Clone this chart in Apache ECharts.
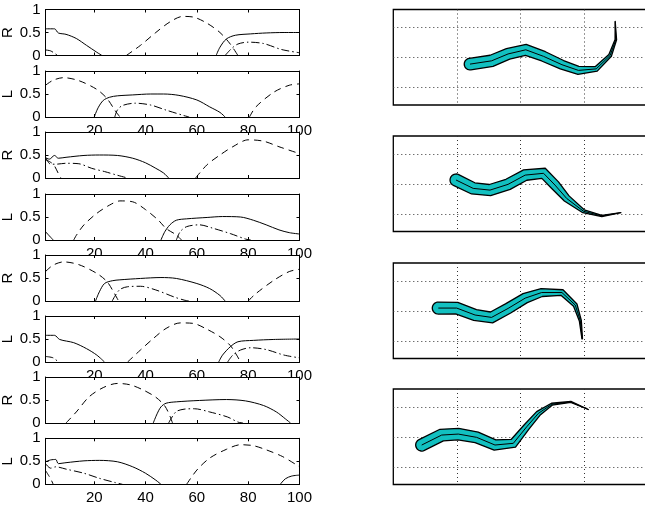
<!DOCTYPE html>
<html><head><meta charset="utf-8">
<script src="https://cdn.jsdelivr.net/npm/echarts@6/dist/echarts.min.js"></script>
<style>html,body{margin:0;padding:0;background:#fff}#c{width:645px;height:506px}</style>
</head><body><div id="c"></div>
<script>
// ---------- tick labels ----------
const xTickValues = [20, 40, 60, 80, 100];
const yTickValues = [0, 0.5, 1];
const panelNames = ['R', 'L', 'R', 'L', 'R', 'L', 'R', 'L'];
const rightGridX = [1, 2, 3];
const rightGridY = [0, 1, 2];

// ---------- left panels: [x, value] ----------
const p1Solid = [[1,0.58],[4.5,0.58],[6,0.49],[9,0.46],[13,0.37],[17,0.22],[21,0.07],[23,0],[67.5,0],[69,0.18],[71.5,0.36],[75,0.44],[81,0.47],[87,0.49],[94,0.5],[100,0.5]];
const p1Dash = [[1,0],[32.5,0],[38,0.22],[44,0.5],[49.5,0.73],[54.5,0.85],[59,0.83],[64,0.7],[69,0.5],[73,0.25],[76,0],[100,0]];
const p1DashDot = [[1,0.12],[3,0.1],[5,0.03],[6,0],[71,0],[73.5,0.15],[76,0.25],[80,0.29],[86,0.26],[93,0.13],[100,0.06]];

const p2Solid = [[1,0],[20,0],[21.5,0.2],[23.5,0.36],[26,0.43],[29,0.46],[35,0.48],[42,0.5],[47,0.5],[53,0.47],[60,0.37],[65,0.22],[69,0.1],[71,0],[100,0]];
const p2Dash = [[1,0.69],[4,0.8],[8,0.855],[14,0.79],[21,0.6],[25,0.4],[28,0.15],[30,0],[80.5,0],[83,0.22],[90,0.54],[96,0.69],[100,0.72]];
const p2DashDot = [[1,0],[28,0],[29,0.15],[31,0.25],[36,0.3],[42,0.26],[48,0.15],[55,0.03],[57,0],[100,0]];

const p3Solid = [[1,0.44],[2.5,0.41],[4.5,0.49],[6,0.43],[9,0.45],[16,0.49],[22,0.5],[29,0.49],[35,0.43],[40,0.33],[44,0.21],[47,0.11],[49,0],[100,0]];
const p3Dash = [[1,0.4],[4,0.3],[6,0.1],[7,0],[59.5,0],[64,0.29],[69,0.5],[74,0.68],[80,0.83],[86,0.8],[92,0.68],[100,0.53]];
const p3DashDot = [[1,0.45],[3,0.3],[5,0.3],[9,0.32],[14,0.31],[19,0.21],[24,0.14],[29,0.06],[33,0],[100,0]];

const p4Solid = [[1,0.18],[4,0],[46,0],[47.5,0.18],[49.5,0.33],[52,0.43],[56,0.46],[64,0.49],[70,0.51],[77,0.5],[82,0.43],[87,0.33],[92,0.22],[96,0.16],[100,0.13]];
const p4Dash = [[1,0],[12,0],[13,0.1],[16,0.33],[21,0.58],[26,0.76],[30,0.85],[35,0.83],[40,0.66],[45,0.43],[48,0.25],[52,0.11],[54,0],[100,0]];
const p4DashDot = [[1,0],[52,0],[53.5,0.18],[56,0.29],[61,0.33],[66,0.26],[73,0.14],[79,0.02],[81,0],[100,0]];

const p5Solid = [[1,0],[20.5,0],[22,0.2],[24,0.38],[27,0.44],[30,0.46],[38,0.49],[46,0.51],[52,0.49],[60,0.38],[65,0.27],[69,0.12],[71,0],[100,0]];
const p5Dash = [[1,0.64],[4,0.78],[8,0.85],[14,0.79],[21,0.6],[25,0.42],[27.5,0.2],[29.5,0],[80,0],[83,0.16],[90,0.45],[96,0.64],[100,0.69]];
const p5DashDot = [[1,0],[27,0],[28,0.1],[30,0.25],[33,0.31],[38,0.32],[44,0.24],[51,0.09],[55,0.02],[57,0],[100,0]];

const p6Solid = [[1,0.58],[4.5,0.58],[6.5,0.49],[12,0.42],[17,0.29],[21,0.15],[24,0],[68.5,0],[70,0.15],[73,0.33],[76,0.44],[82,0.47],[90,0.49],[100,0.5]];
const p6Dash = [[1,0],[33,0],[38,0.26],[43,0.51],[48,0.73],[53.5,0.85],[58.5,0.84],[64,0.71],[69,0.55],[73,0.36],[75.5,0.15],[77,0],[100,0]];
const p6DashDot = [[1,0.12],[4,0.09],[6,0],[72,0],[74,0.15],[77,0.26],[81,0.31],[87,0.27],[94,0.15],[100,0.09]];

const p7Solid = [[1,0],[43,0],[44.5,0.2],[46,0.35],[48,0.43],[52,0.46],[61,0.49],[71.5,0.51],[79,0.48],[86,0.38],[91,0.24],[94.5,0.09],[96.5,0],[100,0]];
const p7Dash = [[1,0],[9,0],[13,0.24],[18,0.57],[23.5,0.77],[29,0.86],[34,0.83],[39,0.72],[44,0.56],[47.5,0.37],[49.5,0.15],[50.5,0],[100,0]];
const p7DashDot = [[1,0],[49,0],[50,0.1],[52,0.25],[55,0.3],[59,0.31],[65,0.24],[72,0.13],[76,0.02],[78,0],[100,0]];

const p8Solid = [[1,0.49],[3,0.53],[5,0.54],[6,0.45],[9,0.47],[16,0.51],[22,0.52],[29,0.49],[35,0.38],[40,0.24],[44,0.09],[46,0],[92.5,0],[94.5,0.12],[97,0.18],[100,0.2]];
const p8Dash = [[1,0.3],[3,0.12],[4,0],[56,0],[60,0.31],[65,0.57],[71.5,0.76],[77,0.86],[82,0.84],[87,0.75],[93.5,0.6],[100,0.38]];
const p8DashDot = [[1,0.45],[3,0.35],[5,0.38],[9,0.33],[16,0.24],[22,0.13],[28,0.04],[31,0],[100,0]];

// ---------- right panels: worm centre line [x, y, half-width] ----------
const worm1 = [[1.21,0.77,0.091],[1.55,0.88,0.091],[1.81,1.11,0.087],[2.09,1.25,0.087],[2.37,1.03,0.079],[2.66,0.75,0.071],[2.92,0.56,0.063],[3.20,0.61,0.039],[3.42,1.06,0.024],[3.51,1.59,0.012],[3.50,2.20,0]];
const worm2 = [[0.99,1.125,0.095],[1.26,0.845,0.092],[1.525,0.787,0.089],[1.81,0.98,0.087],[2.08,1.29,0.085],[2.37,1.35,0.084],[2.55,0.956,0.075],[2.735,0.507,0.055],[3.0,0.078,0.025],[3.29,-0.08,0.01],[3.59,0.034,0]];
const worm3 = [[0.71,1.09,0.095],[1.0,1.09,0.092],[1.29,0.857,0.087],[1.55,0.777,0.087],[1.81,1.077,0.083],[2.08,1.423,0.079],[2.34,1.61,0.063],[2.66,1.61,0.047],[2.87,1.19,0.032],[2.95,0.667,0.016],[2.98,0.057,0.004]];
const worm4 = [[0.448,0.723,0.095],[0.763,1.057,0.095],[1.025,1.09,0.091],[1.315,0.98,0.087],[1.604,0.723,0.083],[1.893,0.78,0.07],[2.104,1.333,0.05],[2.287,1.78,0.039],[2.5,2.09,0.016],[2.8,2.167,0.008],[3.076,1.913,0]];

// ---------- assembly ----------
const leftPanels = [
  [p1Solid,p1Dash,p1DashDot],[p2Solid,p2Dash,p2DashDot],[p3Solid,p3Dash,p3DashDot],[p4Solid,p4Dash,p4DashDot],
  [p5Solid,p5Dash,p5DashDot],[p6Solid,p6Dash,p6DashDot],[p7Solid,p7Dash,p7DashDot],[p8Solid,p8Dash,p8DashDot]
];
const worms = [worm1, worm2, worm3, worm4];

const FONT = 'Liberation Sans, Arial, Helvetica, sans-serif';
const leftTops = [9.5, 71, 132, 194, 255, 316, 377, 438.3];
const rightTops = [9.5, 136, 263, 389];
const lineStyles = [
  {type: 'solid'},
  {type: [7, 5]},
  {type: [8, 3, 1.5, 3]}
];

// split a curve where it rests on the zero baseline (those stretches lie under the axis line)
function segments(pts) {
  const segs = [];
  let cur = [pts[0]];
  for (let i = 1; i < pts.length; i++) {
    if (pts[i][1] === 0 && pts[i - 1][1] === 0) {
      if (cur.length > 1) segs.push(cur);
      cur = [pts[i]];
    } else cur.push(pts[i]);
  }
  if (cur.length > 1) segs.push(cur);
  return segs;
}

const grid = [], xAxis = [], yAxis = [], series = [];
leftTops.forEach((top, i) => {
  const base = 10 * i;
  grid.push({left: 45.5, top: top, width: 254, height: 46, show: true, backgroundColor: '#fff', borderWidth: 0, z: base, containLabel: false, outerBoundsMode: 'none'});
  const isL = panelNames[i] === 'L';
  const axLine = {show: true, onZero: false, lineStyle: {color: '#000', width: 1}};
  const tick = {show: true, inside: true, length: 3, customValues: xTickValues, lineStyle: {color: '#000'}};
  xAxis.push({gridIndex: i, type: 'value', min: 1, max: 100, position: 'bottom', axisLine: axLine, axisTick: tick,
    axisLabel: {show: isL, customValues: xTickValues, margin: 6, color: '#000', fontSize: 15, fontFamily: FONT},
    splitLine: {show: false}, z: base + 2});
  xAxis.push({gridIndex: i, type: 'value', min: 1, max: 100, position: 'top', axisLine: axLine, axisTick: tick,
    axisLabel: {show: false}, splitLine: {show: false}, z: base + 2});
  const ytick = {show: true, inside: true, length: 3, customValues: yTickValues, lineStyle: {color: '#000'}};
  yAxis.push({gridIndex: i, type: 'value', min: 0, max: 1, position: 'left', axisLine: axLine, axisTick: ytick,
    axisLabel: {show: true, customValues: yTickValues, margin: 5, color: '#000', fontSize: 15, fontFamily: FONT},
    name: panelNames[i], nameLocation: 'middle', nameRotate: 90, nameGap: 25,
    nameTextStyle: {color: '#000', fontSize: 15, fontFamily: FONT},
    splitLine: {show: false}, z: base + 2});
  yAxis.push({gridIndex: i, type: 'value', min: 0, max: 1, position: 'right', axisLine: axLine, axisTick: ytick,
    axisLabel: {show: false}, splitLine: {show: false}, z: base + 2});
  leftPanels[i].forEach((data, k) => {
    segments(data).forEach(seg => {
      series.push({type: 'line', xAxisIndex: 2 * i, yAxisIndex: 2 * i, data: seg, showSymbol: false, symbol: 'none',
        smooth: 0.3, clip: true, silent: true, z: base + 1,
        lineStyle: Object.assign({color: '#000', width: 1}, lineStyles[k])});
    });
  });
});

const xOff = xAxis.length, yOff = yAxis.length, gOff = grid.length;
const gridItems = rightGridX.map(v => [v, 0]).concat(rightGridY.map(v => [v, 1]));

function wormRender(pts) {
  return function (params, api) {
    if (params.dataIndex !== 0) return null;
    const P = pts.map(p => api.coord([p[0], p[1]]));
    const unit = api.size([1, 0])[0];
    const n = P.length;
    const Lp = [], Rp = [];
    let t0 = null;
    for (let i = 0; i < n; i++) {
      const a = P[Math.max(0, i - 1)], b = P[Math.min(n - 1, i + 1)];
      let tx = b[0] - a[0], ty = b[1] - a[1];
      const len = Math.hypot(tx, ty) || 1; tx /= len; ty /= len;
      if (i === 0) t0 = [tx, ty];
      const nx = -ty, ny = tx, h = pts[i][2] * unit;
      Lp.push([P[i][0] + nx * h, P[i][1] + ny * h]);
      Rp.push([P[i][0] - nx * h, P[i][1] - ny * h]);
    }
    const poly = Lp.concat(Rp.slice().reverse());
    const h0 = pts[0][2] * unit, nx0 = -t0[1], ny0 = t0[0];
    for (let s = 1; s < 16; s++) {
      const th = Math.PI * s / 16;
      poly.push([P[0][0] + h0 * (-nx0 * Math.cos(th) - t0[0] * Math.sin(th)),
                 P[0][1] + h0 * (-ny0 * Math.cos(th) - t0[1] * Math.sin(th))]);
    }
    return {type: 'group', children: [
      {type: 'polygon', shape: {points: poly}, style: {fill: '#12C0C0', stroke: '#000', lineWidth: 1.3, lineJoin: 'round'}},
      {type: 'polyline', shape: {points: P}, style: {fill: null, stroke: '#000', lineWidth: 1}}
    ]};
  };
}

function gridRender(params, api) {
  const cs = params.coordSys;
  const v = api.value(0), k = api.value(1);
  const st = {stroke: '#333', lineWidth: 1, lineDash: [1, 3]};
  if (k === 0) {
    const p = api.coord([v, 0]);
    const x = Math.round(p[0]) + 0.5;
    return {type: 'line', shape: {x1: x, y1: cs.y, x2: x, y2: cs.y + cs.height}, style: st};
  }
  const p = api.coord([0, v]);
  const y = Math.round(p[1]) + 0.5;
  return {type: 'line', shape: {x1: cs.x, y1: y, x2: cs.x + cs.width, y2: y}, style: st};
}

rightTops.forEach((top, j) => {
  const base = 100 + 10 * j;
  grid.push({left: 393.3, top: top, width: 253.6, height: 95.5, show: true, backgroundColor: '#fff', borderColor: '#000', borderWidth: 1.3, z: base, containLabel: false, outerBoundsMode: 'none'});
  xAxis.push({gridIndex: gOff + j, type: 'value', min: 0, max: 4, show: false, splitLine: {show: false}});
  yAxis.push({gridIndex: gOff + j, type: 'value', min: -0.6, max: 2.6, show: false, splitLine: {show: false}});
  series.push({type: 'custom', xAxisIndex: xOff + j, yAxisIndex: yOff + j, data: gridItems, renderItem: gridRender, silent: true, z: base + 1});
  series.push({type: 'custom', xAxisIndex: xOff + j, yAxisIndex: yOff + j, data: worms[j], renderItem: wormRender(worms[j]), silent: true, z: base + 2});
});

const chart = echarts.init(document.getElementById('c'), null, {renderer: 'canvas'});
chart.setOption({animation: false, backgroundColor: '#fff', grid, xAxis, yAxis, series});
</script>
</body></html>
